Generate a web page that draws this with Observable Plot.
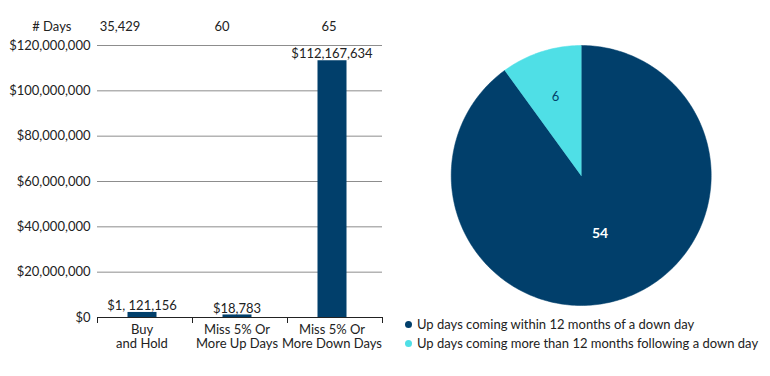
<!DOCTYPE html>
<html><head><meta charset="utf-8">
<script src="https://cdn.jsdelivr.net/npm/d3@7"></script>
<script src="https://cdn.jsdelivr.net/npm/@observablehq/plot@0.6"></script>
<style>
body{margin:0;background:#fff;font-family:Lato,sans-serif}
#wrap{position:relative;width:770px;height:376px;overflow:hidden}
#bar{position:absolute;left:0;top:0}
#pie{position:absolute;left:395px;top:0}
#legend{position:absolute;left:405px;top:315px;font-family:Lato,sans-serif;font-size:13px;color:#222;line-height:19px}
#legend .row{display:flex;align-items:center;white-space:nowrap}
#legend .dot{display:inline-block;width:7px;height:7px;border-radius:50%;margin-right:5px}
</style></head>
<body><div id="wrap"><div id="bar"></div><div id="pie"></div><div id="legend"></div></div>
<script>
// ---- data ----
const categories = ["Buy\nand Hold", "Miss 5% Or\nMore Up Days", "Miss 5% Or\nMore Down Days"];
const values = [1121156, 18783, 112167634];
const valueLabels = ["$1, 121,156", "$18,783", "$112,167,634"];
const daysTitle = "# Days";
const days = ["35,429", "60", "65"];
const yTicks = [0, 20000000, 40000000, 60000000, 80000000, 100000000, 120000000];
const pieNames = ["Up days coming within 12 months of a down day", "Up days coming more than 12 months following a down day"];
const pieValues = [54, 6];
const pieColors = ["#013f6b", "#4fdfe6"];

// ---- layout ----
const navy = pieColors[0];
const daysDx = [-25, -18, -6];
const txt = "#222";

const barData = categories.map((c, i) => ({i, c, v: values[i], label: valueLabels[i], days: days[i]}));

const barChart = Plot.plot({
  width: 395, height: 376,
  marginLeft: 97, marginRight: 13, marginTop: 45, marginBottom: 59,
  style: {fontFamily: "Lato, sans-serif", fontSize: "13px", color: txt, background: "transparent", overflow: "visible"},
  x: {type: "linear", domain: [0, 3]},
  y: {domain: [0, 120000000]},
  marks: [
    Plot.ruleY(yTicks.filter(d => d > 0), {stroke: "#8d8d8d", strokeWidth: 1}),
    Plot.axisY({ticks: yTicks, tickSize: 0, tickPadding: 7, tickFormat: d => "$" + d3.format(",")(d), fontSize: 13, label: null}),
    Plot.rectY(barData, {x1: "i", x2: d => d.i + 1, y: "v", fill: navy, insetLeft: 30.5, insetRight: 35.5, insetTop: -2.5}),
    Plot.ruleY([0], {stroke: "#222", strokeWidth: 1.2}),
    Plot.axisX({ticks: [0, 1, 2, 3], tickSize: 6, tickFormat: () => "", stroke: "#222", label: null}),
    Plot.text(barData, {x: d => d.i + 0.5, y: "v", text: "label", dy: -9, dx: -3, fontSize: 13, fill: txt}),
    Plot.text(barData, {x: d => d.i + 0.5, y: 0, text: "c", lineAnchor: "top", dy: 6, dx: -3, lineHeight: 1.12, fontSize: 13, fill: txt}),
    ...days.map((d, i) => Plot.text([d], {x: () => i + 0.5, frameAnchor: "top", lineAnchor: "middle", text: t => t, dy: -18.5, dx: daysDx[i], fontSize: 13, fill: txt})),
    Plot.text([daysTitle], {frameAnchor: "top-left", textAnchor: "middle", lineAnchor: "middle", text: t => t, dx: -45.7, dy: -18.5, fontSize: 13, fill: txt})
  ]
});
document.getElementById("bar").appendChild(barChart);

// ---- pie ----
const pieData = pieNames.map((n, k) => ({name: n, v: pieValues[k]}));
const arcs = d3.pie().sort(null).value(d => d.v)(pieData);
const pts = arcs.flatMap(a => {
  const n = Math.max(4, Math.ceil((a.endAngle - a.startAngle) / (2 * Math.PI) * 360));
  const p = [{name: a.data.name, x: 0, y: 0}];
  for (let j = 0; j <= n; j++) {
    const t = a.startAngle + (a.endAngle - a.startAngle) * j / n;
    p.push({name: a.data.name, x: Math.sin(t), y: Math.cos(t)});
  }
  p.push({name: a.data.name, x: 0, y: 0});
  return p;
});
const labelR = [0.47, 0.64];
const mid = a => (a.startAngle + a.endAngle) / 2;

const pieChart = Plot.plot({
  width: 375, height: 376,
  marginLeft: 55.7, marginRight: 59.3, marginTop: 45, marginBottom: 71,
  style: {fontFamily: "Lato, sans-serif", background: "transparent", overflow: "visible"},
  x: {domain: [-1, 1], axis: null},
  y: {domain: [-1, 1], axis: null},
  color: {domain: pieNames, range: pieColors},
  marks: [
    Plot.line(pts, {x: "x", y: "y", z: "name", fill: "name", stroke: "name", strokeWidth: 0.5, curve: "linear"}),
    Plot.text([arcs[0]], {x: a => labelR[0] * Math.sin(mid(a)), y: a => labelR[0] * Math.cos(mid(a)), text: a => String(a.data.v), fill: "white", fontWeight: "bold", fontSize: 14}),
    Plot.text([arcs[1]], {x: a => labelR[1] * Math.sin(mid(a)), y: a => labelR[1] * Math.cos(mid(a)), text: a => String(a.data.v), fill: navy, fontSize: 13})
  ]
});
document.getElementById("pie").appendChild(pieChart);

// ---- legend ----
const leg = document.getElementById("legend");
pieNames.forEach((n, k) => {
  const row = document.createElement("div");
  row.className = "row";
  const dot = document.createElement("span");
  dot.className = "dot";
  dot.style.background = pieColors[k];
  row.appendChild(dot);
  row.appendChild(document.createTextNode(n));
  leg.appendChild(row);
});
</script>
</body></html>
